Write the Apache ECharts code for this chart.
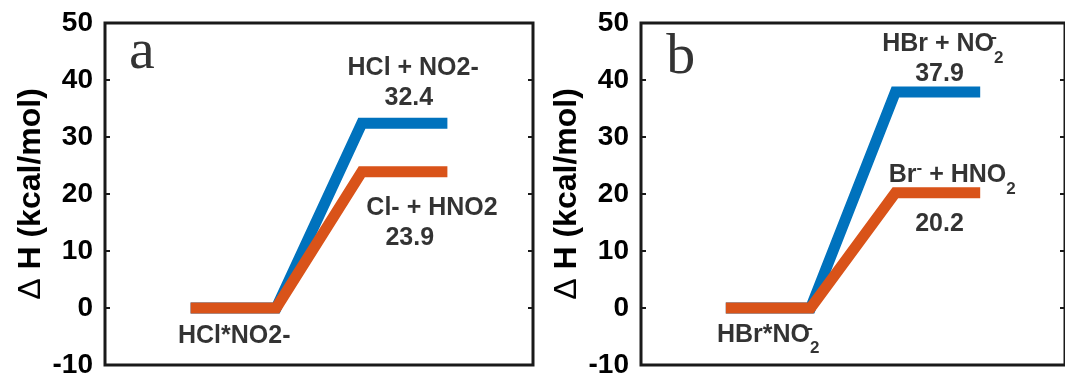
<!DOCTYPE html>
<html><head><meta charset="utf-8">
<script src="https://cdn.jsdelivr.net/npm/echarts@6/dist/echarts.min.js"></script>
<style>html,body{margin:0;padding:0;background:#fff;overflow:hidden}#c{width:1065px;height:379px}</style>
</head><body><div id="c"></div>
<script>
// ---- data ----
const stepX = [1, 2, 3, 4];                 // reaction-coordinate positions of each level
const aNeutral = [0, 0, 32.4, 32.4];        // HCl*NO2- -> HCl + NO2-
const aIonic   = [0, 0, 23.9, 23.9];        // HCl*NO2- -> Cl- + HNO2
const bNeutral = [0, 0, 37.9, 37.9];        // HBr*NO2- -> HBr + NO2-
const bIonic   = [0, 0, 20.2, 20.2];        // HBr*NO2- -> Br- + HNO2
const yTickMin = -10, yTickMax = 50, yTickStep = 10;
const panelLetters = ['a', 'b'];
const aTexts = ['HCl + NO2-', String(aNeutral[3]), 'Cl- + HNO2', String(aIonic[3]), 'HCl*NO2-'];
const bTexts = ['{m|HBr + NO}{sp|-}{sb|2}', String(bNeutral[3]), '{m|Br}{sw|-}{m| + HNO}{sb|2}', String(bIonic[3]), '{m|HBr*NO}{sp|-}{sb|2}'];
// annotation anchors in data units (x, ΔH)
const aTextX = [3.60, 3.55, 3.82, 3.56, 1.51];
const aTextY = [42.0, 36.8, 17.5, 12.2, -5.0];
const bTextX = [3.56, 3.52, 3.67, 3.52, 1.50];
const bTextY = [46.3, 41.0, 23.3, 14.8, -4.7];
const letterX = [0.43, 0.47];
const letterY = [44.8, 43.9];

// ---- styles ----
const BLUE = '#0072BD', ORANGE = '#D95319', INK = '#000';
const SANS = 'Liberation Sans';
const rich = {
  m:  {fontSize: 25, fontWeight: 'bold', fontFamily: SANS, color: INK},
  sp: {fontSize: 17, fontWeight: 'bold', fontFamily: SANS, color: INK, width: 0.01, lineHeight: 17, padding: [0, 0, 13, 0]},
  sw: {fontSize: 17, fontWeight: 'bold', fontFamily: SANS, color: INK, lineHeight: 17, padding: [0, 0, 13, 0]},
  sb: {fontSize: 17, fontWeight: 'bold', fontFamily: SANS, color: INK, lineHeight: 17, padding: [28, 0, 0, 0]}
};

const grids = [
  {left: 105, top: 23, width: 428, height: 342},
  {left: 641, top: 23, width: 428, height: 342}
].map(g => Object.assign(g, {show: true, borderColor: '#1a1a1a', borderWidth: 3, backgroundColor: 'transparent', containLabel: false}));

const xAxes = [0, 1].map(i => ({
  type: 'value', gridIndex: i, min: 0, max: 5,
  axisLine: {show: false}, axisTick: {show: false}, axisLabel: {show: false}, splitLine: {show: false}
}));

const yAxes = [];
[0, 1].forEach(i => {
  yAxes.push({
    type: 'value', gridIndex: i, position: 'left', min: yTickMin, max: yTickMax, interval: yTickStep,
    name: '{d|Δ} H (kcal/mol)', nameLocation: 'middle', nameRotate: 90, nameGap: 58,
    nameTextStyle: {fontSize: 32, fontWeight: 'bold', fontFamily: SANS, color: INK,
      rich: {d: {fontSize: 32, fontWeight: 'normal', fontFamily: SANS, color: INK}}},
    axisLine: {show: false},
    axisTick: {show: true, inside: true, length: 5, lineStyle: {color: '#1a1a1a', width: 2}},
    axisLabel: {fontSize: 28, fontWeight: 'bold', fontFamily: SANS, color: INK, margin: 12},
    splitLine: {show: false}
  });
  yAxes.push({
    type: 'value', gridIndex: i, position: 'right', min: yTickMin, max: yTickMax, interval: yTickStep,
    axisLine: {show: false},
    axisTick: {show: true, inside: true, length: 5, lineStyle: {color: '#1a1a1a', width: 2}},
    axisLabel: {show: false}, splitLine: {show: false}
  });
});

function levelLine(i, vals, color) {
  return {
    type: 'line', xAxisIndex: i, yAxisIndex: i * 2, symbol: 'none', silent: true,
    data: stepX.map((x, k) => [x, vals[k]]),
    lineStyle: {width: 11, color: color, cap: 'butt', join: 'miter'},
    emphasis: {disabled: true}
  };
}

function notes(i, texts, xs, ys) {
  const data = texts.map((t, k) => ({value: [xs[k], ys[k]], label: {formatter: t}}));
  data.push({value: [letterX[i], letterY[i]], label: {formatter: panelLetters[i], fontSize: 58, fontWeight: 'normal', fontFamily: 'Liberation Serif', color: INK}});
  return {
    type: 'scatter', xAxisIndex: i, yAxisIndex: i * 2, symbolSize: 0, silent: true, z: 5,
    data: data,
    label: {show: true, position: 'inside', align: 'center', verticalAlign: 'middle',
      fontSize: 25, fontWeight: 'bold', fontFamily: SANS, color: INK, rich: rich},
    emphasis: {disabled: true}
  };
}

const chart = echarts.init(document.getElementById('c'), null, {renderer: 'canvas'});
chart.setOption({
  animation: false,
  backgroundColor: '#fff',
  grid: grids,
  xAxis: xAxes,
  yAxis: yAxes,
  series: [
    levelLine(0, aNeutral, BLUE), levelLine(0, aIonic, ORANGE),
    levelLine(1, bNeutral, BLUE), levelLine(1, bIonic, ORANGE),
    notes(0, aTexts, aTextX, aTextY), notes(1, bTexts, bTextX, bTextY)
  ]
});
</script></body></html>
